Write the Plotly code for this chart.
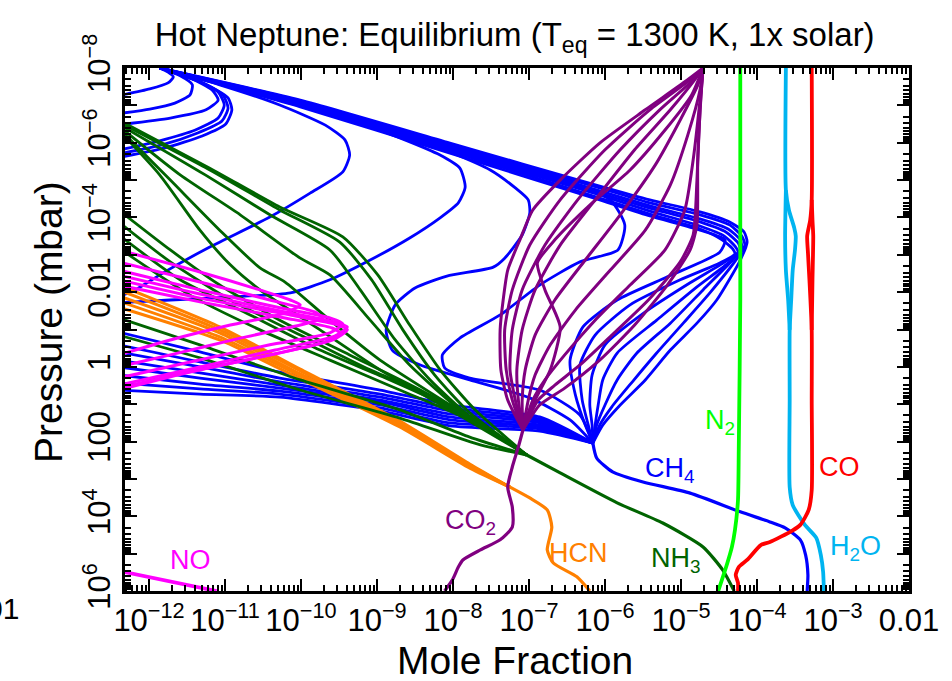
import numpy as np
import plotly.graph_objects as go

# All profile values are stored as log10(mole fraction) (LX) and log10(pressure / mbar) (LP)

# ---------------- CH4 ----------------
CH4_DEEP_LX = [-6.16, -6.11, -5.90, -5.50, -4.88, -4.22, -3.83, -3.63, -3.43, -3.36, -3.33, -3.34]
CH4_DEEP_LP = [2.04, 2.44, 2.81, 3.08, 3.38, 3.88, 4.15, 4.31, 4.63, 5.04, 5.57, 6.00]

CH4_ARC1_LX = [-11.86, -11.75, -11.68, -11.75, -11.99, -12.40]
CH4_ARC1_LP = [-8.0, -7.89, -7.76, -7.60, -7.44, -7.26]
CH4_ARC2_LX = [-11.86, -11.59, -11.43, -11.46, -11.66, -11.99, -12.40]
CH4_ARC2_LP = [-8.0, -7.79, -7.55, -7.28, -7.06, -6.90, -6.78]
CH4_ARC3_LX = [-11.86, -11.46, -11.17, -11.09, -11.25, -11.72, -12.40]
CH4_ARC3_LP = [-8.0, -7.73, -7.41, -7.14, -6.88, -6.66, -6.48]
CH4_ARC4_LX = [-11.86, -11.39, -11.09, -11.01, -11.09, -11.39, -11.86, -12.40]
CH4_ARC4_LP = [-8.0, -7.68, -7.36, -7.01, -6.66, -6.34, -6.05, -5.80]
CH4_ARC5_LX = [-11.86, -11.33, -11.03, -10.96, -11.04, -11.36, -11.83, -12.40]
CH4_ARC5_LP = [-8.0, -7.63, -7.28, -6.93, -6.58, -6.26, -5.94, -5.70]
CH4_ARC6_LX = [-11.86, -11.26, -10.96, -10.91, -10.99, -11.30, -11.79, -12.40]
CH4_ARC6_LP = [-8.0, -7.57, -7.20, -6.88, -6.50, -6.18, -5.86, -5.60]
CH4_BIGC_LX = [-11.86, -11.07, -10.28, -9.68, -9.42, -9.36, -9.45, -9.88, -10.41, -11.20, -11.82, -12.18, -12.40]
CH4_BIGC_LP = [-8.0, -7.55, -7.01, -6.47, -6.07, -5.67, -5.22, -4.65, -4.01, -3.21, -2.51, -2.06, -1.88]
CH4_C465_LX = [-11.86, -10.67, -9.62, -8.70, -8.17, -7.91, -7.84, -7.93, -8.17, -8.57, -9.09, -9.62, -10.14, -10.93, -11.72, -12.40]
CH4_C465_LP = [-8.0, -7.41, -6.82, -6.13, -5.67, -5.32, -4.81, -4.39, -3.99, -3.45, -2.86, -2.33, -1.98, -1.87, -1.79, -1.72]
CH4_C530_LX = [-11.86, -10.01, -8.70, -8.04, -7.51, -7.18, -7.01, -6.99, -7.09, -7.32, -7.47, -8.08, -8.50,
               -8.76, -8.88, -8.80, -8.43, -7.78, -6.99, -6.46, -6.16]
CH4_C530_LP = [-8.0, -7.04, -6.26, -5.75, -5.27, -4.79, -4.47, -4.12, -3.53, -2.91, -2.67, -2.43, -2.11,
               -1.66, -0.99, -0.45, -0.05, 0.35, 0.83, 1.42, 2.04]
CH4_C620_LX = [-11.86, -10.01, -8.04, -6.59, -5.93, -5.74, -5.83, -6.33, -6.86, -7.38, -7.91, -8.14, -8.11,
               -7.78, -6.86, -6.33, -6.16]
CH4_C620_LP = [-8.0, -7.06, -5.89, -5.06, -4.47, -3.80, -3.13, -2.81, -2.19, -1.39, -0.77, -0.32, 0.03,
               0.30, 0.62, 1.29, 2.04]

CH4_BAND_LX = [-12.40, -11.33, -10.28, -8.96, -8.04, -6.86, -6.16]
CH4_BAND1_LP = [-0.93, -0.40, 0.14, 0.62, 1.02, 1.34, 2.04]
CH4_BAND2_LP = [-0.59, -0.13, 0.30, 0.73, 1.10, 1.40, 2.04]
CH4_BAND3_LP = [-0.40, 0.00, 0.40, 0.81, 1.18, 1.45, 2.04]
CH4_BAND4_LP = [-0.18, 0.16, 0.49, 0.89, 1.26, 1.50, 2.04]
CH4_BAND5_LP = [0.00, 0.30, 0.57, 0.94, 1.34, 1.56, 2.04]
CH4_BAND6_LP = [0.22, 0.46, 0.65, 1.02, 1.42, 1.61, 2.04]
CH4_BAND7_LP = [0.43, 0.59, 0.73, 1.10, 1.50, 1.66, 2.04]
CH4_BAND8_LP = [0.62, 0.73, 0.81, 1.18, 1.58, 1.72, 2.04]

CH4_NOSE0_LX = [-11.86, -10.01, -8.04, -6.07, -5.41, -4.75, -4.36, -4.17, -4.13, -4.22, -4.53, -4.79, -5.14, -5.47, -5.80, -6.03, -6.16]
CH4_NOSE0_LP = [-8.0, -7.14, -5.99, -4.84, -4.47, -4.15, -3.88, -3.61, -3.34, -2.86, -1.79, -1.17, -0.45, 0.35, 1.02, 1.56, 2.04]
CH4_NOSE1_LX = [-11.86, -10.01, -8.04, -6.07, -5.41, -4.75, -4.36, -4.20, -4.16, -4.26, -4.62, -4.97, -5.32, -5.64, -5.91, -6.07, -6.16]
CH4_NOSE1_LP = [-8.0, -7.12, -5.94, -4.79, -4.39, -4.07, -3.80, -3.50, -3.26, -2.91, -1.98, -1.17, -0.37, 0.40, 1.07, 1.56, 2.04]
CH4_NOSE2_LX = [-11.86, -10.01, -8.04, -6.07, -5.41, -4.75, -4.38, -4.22, -4.20, -4.32, -4.71, -5.14, -5.58, -5.84, -6.00, -6.11, -6.16]
CH4_NOSE2_LP = [-8.0, -7.09, -5.91, -4.71, -4.31, -3.96, -3.69, -3.40, -3.18, -2.86, -2.06, -1.17, -0.37, 0.35, 1.02, 1.56, 2.04]
CH4_NOSE3_LX = [-11.86, -10.01, -8.04, -6.07, -5.41, -4.75, -4.41, -4.25, -4.22, -4.36, -4.79, -5.32, -5.84, -6.03, -6.09, -6.13, -6.16]
CH4_NOSE3_LP = [-8.0, -7.04, -5.86, -4.65, -4.25, -3.88, -3.61, -3.32, -3.13, -2.81, -2.14, -1.25, -0.37, 0.35, 1.02, 1.56, 2.04]
CH4_NOSE4_LX = [-11.86, -10.01, -8.04, -6.07, -5.41, -4.75, -4.43, -4.29, -4.25, -4.42, -4.88, -5.47, -6.00, -6.17, -6.20, -6.17, -6.16]
CH4_NOSE4_LP = [-8.0, -7.01, -5.81, -4.60, -4.17, -3.77, -3.50, -3.23, -3.07, -2.81, -2.25, -1.47, -0.59, 0.22, 1.02, 1.56, 2.04]
CH4_NOSE5_LX = [-11.86, -10.01, -8.04, -6.07, -5.41, -4.75, -4.46, -4.32, -4.29, -4.49, -5.01, -5.67, -6.13, -6.33, -6.30, -6.22, -6.16]
CH4_NOSE5_LP = [-8.0, -6.98, -5.78, -4.52, -4.09, -3.69, -3.40, -3.16, -3.02, -2.78, -2.33, -1.66, -0.85, -0.05, 0.89, 1.56, 2.04]
CH4_NOSE6_LX = [-11.86, -10.01, -8.04, -6.07, -5.41, -4.75, -4.42, -4.49, -5.18, -5.84, -6.29, -6.46, -6.39, -6.26, -6.16]
CH4_NOSE6_LP = [-8.0, -6.96, -5.72, -4.47, -4.04, -3.66, -3.40, -3.07, -2.41, -1.79, -1.07, -0.18, 0.75, 1.56, 2.04]

# ---------------- NH3 ----------------
NH3_TAIL_LX = [-7.03, -6.59, -5.84, -5.24, -4.71, -4.45, -4.30]
NH3_TAIL_LP = [2.36, 2.84, 3.64, 4.18, 4.82, 5.44, 6.00]
NH3_A1_LX = [-12.40, -11.20, -10.28, -9.45, -8.99, -8.57, -8.17, -7.71, -7.03]
NH3_A1_LP = [-6.61, -5.32, -4.28, -3.48, -2.46, -1.12, 0.08, 1.15, 2.36]
NH3_A2_LX = [-12.40, -11.20, -10.28, -9.49, -9.07, -8.66, -8.24, -7.78, -7.03]
NH3_A2_LP = [-6.55, -5.27, -4.20, -3.34, -2.33, -0.99, 0.22, 1.23, 2.36]
NH3_A3_LX = [-12.40, -11.26, -10.41, -9.62, -9.22, -8.76, -8.30, -7.80, -7.03]
NH3_A3_LP = [-6.50, -5.14, -4.07, -3.13, -2.06, -0.72, 0.35, 1.29, 2.36]
NH3_A4_LX = [-12.40, -11.59, -10.80, -10.01, -9.62, -9.09, -8.57, -7.91, -7.03]
NH3_A4_LP = [-6.45, -5.14, -4.07, -2.91, -2.46, -1.25, -0.05, 1.15, 2.36]
NH3_A5_LX = [-12.40, -11.72, -11.07, -10.54, -10.21, -9.62, -8.96, -8.04, -7.03]
NH3_A5_LP = [-6.39, -5.00, -3.66, -2.65, -2.27, -1.25, -0.18, 1.02, 2.36]
NH3_A6_LX = [-12.40, -11.86, -11.33, -10.93, -10.54, -9.75, -8.96, -8.04, -7.03]
NH3_A6_LP = [-6.34, -5.14, -3.66, -2.73, -2.06, -0.99, 0.08, 1.15, 2.36]
NH3_B1_LX = [-12.40, -11.72, -11.07, -10.28, -9.36, -8.43, -7.64, -7.03]
NH3_B1_LP = [-4.20, -3.13, -2.19, -1.25, -0.32, 0.62, 1.56, 2.36]
NH3_B2_LX = [-12.40, -11.72, -10.93, -10.01, -9.09, -8.17, -7.51, -7.03]
NH3_B2_LP = [-3.88, -2.81, -1.79, -0.85, 0.08, 0.89, 1.69, 2.36]
NH3_B3_LX = [-12.40, -11.59, -10.67, -9.75, -8.83, -7.91, -7.38, -7.03]
NH3_B3_LP = [-3.53, -2.33, -1.39, -0.45, 0.35, 1.21, 1.88, 2.36]
NH3_B4_LX = [-12.40, -11.46, -10.54, -9.62, -8.70, -7.84, -7.32, -7.03]
NH3_B4_LP = [-3.18, -1.92, -0.99, -0.18, 0.62, 1.37, 1.96, 2.36]
NH3_C1_LX = [-12.40, -11.33, -10.01, -8.70, -7.78, -7.03]
NH3_C1_LP = [-1.31, -0.59, 0.35, 1.15, 1.88, 2.36]
NH3_C2_LX = [-12.40, -11.33, -10.01, -8.70, -7.64, -7.03]
NH3_C2_LP = [-0.85, -0.24, 0.62, 1.37, 2.09, 2.36]

# ---------------- NO ----------------
NO_L1_LX = [-12.40, -11.33, -10.54, -10.14, -10.01, -10.21, -10.93, -11.72, -12.40]
NO_L1_LP = [-3.13, -2.54, -2.06, -1.79, -1.66, -1.44, -1.12, -0.72, -0.32]
NO_L2_LX = [-12.40, -11.33, -10.41, -9.82, -9.72, -10.01, -10.80, -11.72, -12.40]
NO_L2_LP = [-2.81, -2.27, -1.79, -1.47, -1.31, -1.12, -0.77, -0.32, 0.00]
NO_L3_LX = [-12.40, -11.33, -10.28, -9.62, -9.45, -9.62, -10.41, -11.46, -12.40]
NO_L3_LP = [-2.59, -2.06, -1.58, -1.31, -1.15, -0.91, -0.59, -0.13, 0.30]
NO_L4_LX = [-12.40, -11.33, -10.21, -9.55, -9.39, -9.55, -10.34, -11.39, -12.40]
NO_L4_LP = [-2.46, -1.95, -1.47, -1.20, -1.07, -0.83, -0.45, 0.03, 0.49]
NO_L5_LX = [-12.40, -11.33, -10.14, -9.51, -9.39, -9.58, -10.41, -11.46, -12.40]
NO_L5_LP = [-2.33, -1.84, -1.39, -1.12, -0.99, -0.72, -0.32, 0.14, 0.62]
NO_L6_LX = [-12.40, -11.33, -10.21, -9.59, -9.49, -9.68, -10.54, -11.53, -12.40]
NO_L6_LP = [-2.19, -1.74, -1.31, -1.04, -0.91, -0.67, -0.26, 0.16, 0.57]
NO_DEEP_LX = [-12.40, -11.11]
NO_DEEP_LP = [5.46, 6.00]

# ---------------- HCN ----------------
HCN_HEAD_LX = [-12.40, -11.07, -10.01, -8.70, -7.78, -7.25]
HCN_H1_LP = [-2.19, -1.07, 0.06, 1.45, 2.60, 3.22]
HCN_H2_LP = [-2.06, -0.99, 0.11, 1.48, 2.63, 3.22]
HCN_H3_LP = [-1.90, -0.91, 0.19, 1.53, 2.65, 3.22]
HCN_H4_LP = [-1.76, -0.80, 0.24, 1.56, 2.68, 3.22]
HCN_H5_LP = [-1.60, -0.72, 0.32, 1.61, 2.71, 3.22]
HCN_TAIL_LX = [-7.25, -6.99, -6.76, -6.70, -6.76, -6.68, -6.37, -6.20]
HCN_TAIL_LP = [3.22, 3.51, 3.83, 4.29, 4.90, 5.25, 5.62, 6.00]

# ---------------- CO2 ----------------
CO2_DEEP_LX = [-7.08, -7.14, -7.22, -7.28, -7.22, -7.22, -7.38, -7.64, -7.87, -7.93, -8.01, -8.11]
CO2_DEEP_LP = [1.69, 2.14, 2.68, 3.22, 3.75, 4.29, 4.63, 4.90, 5.17, 5.36, 5.71, 6.00]
CO2_F1_LX = [-7.08, -7.28, -7.37, -7.38, -7.34, -7.28, -7.12, -6.95, -6.59, -6.07, -5.47, -4.95, -4.71]
CO2_F1_LP = [1.69, 0.89, 0.08, -0.99, -1.79, -2.59, -3.40, -4.20, -5.00, -5.99, -6.88, -7.63, -8.0]
CO2_F2_LX = [-7.08, -7.22, -7.30, -7.32, -7.22, -6.99, -6.59, -6.00, -5.41, -4.88, -4.71]
CO2_F2_LP = [1.69, 0.89, 0.08, -0.99, -2.06, -3.26, -4.47, -5.81, -6.88, -7.68, -8.0]
CO2_F3_LX = [-7.08, -7.18, -7.25, -7.22, -7.09, -6.79, -6.36, -5.80, -5.28, -4.84, -4.71]
CO2_F3_LP = [1.69, 0.89, 0.08, -0.99, -2.06, -3.26, -4.47, -5.81, -6.88, -7.68, -8.0]
CO2_F4_LX = [-7.08, -7.14, -7.16, -7.09, -6.92, -6.59, -6.13, -5.61, -5.14, -4.82, -4.71]
CO2_F4_LP = [1.69, 0.89, 0.08, -0.99, -2.06, -3.26, -4.47, -5.81, -6.88, -7.68, -8.0]
CO2_F5_LX = [-7.08, -7.09, -7.05, -6.92, -6.66, -6.26, -5.80, -5.34, -5.01, -4.78, -4.71]
CO2_F5_LP = [1.69, 0.89, 0.08, -0.85, -1.79, -2.86, -4.07, -5.40, -6.61, -7.54, -8.0]
CO2_F6_LX = [-7.08, -7.01, -6.92, -6.72, -6.39, -5.93, -5.47, -5.14, -4.91, -4.75, -4.71]
CO2_F6_LP = [1.69, 0.89, 0.22, -0.59, -1.52, -2.59, -3.66, -4.87, -6.21, -7.41, -8.0]
CO2_F7_LX = [-7.08, -6.95, -6.79, -6.53, -6.13, -5.67, -5.21, -4.95, -4.84, -4.75, -4.71]
CO2_F7_LP = [1.69, 0.89, 0.35, -0.32, -1.25, -2.19, -3.13, -4.20, -5.54, -7.14, -8.0]
CO2_F8_LX = [-7.08, -6.88, -6.66, -6.33, -5.91, -5.43, -5.01, -4.84, -4.79, -4.75, -4.71]
CO2_F8_LP = [1.69, 0.89, 0.49, -0.05, -0.85, -1.79, -2.81, -3.53, -5.00, -6.88, -8.0]
CO2_F9_LX = [-7.08, -6.86, -6.53, -6.07, -5.61, -5.18, -4.88, -4.79, -4.78, -4.74, -4.71]
CO2_F9_LP = [1.69, 1.02, 0.57, -0.18, -1.12, -2.19, -3.13, -3.80, -5.54, -7.14, -8.0]
CO2_F10_LX = [-7.08, -6.92, -6.72, -6.59, -6.79, -6.89, -6.66, -6.20, -5.67, -5.21, -4.86, -4.71]
CO2_F10_LP = [1.69, 0.89, 0.08, -1.07, -2.06, -2.78, -3.40, -4.33, -5.27, -6.34, -7.28, -8.0]

# ---------------- N2, H2O, CO ----------------
N2_LX = [-4.22, -4.22, -4.24, -4.25, -4.29, -4.33, -4.39, -4.51]
N2_LP = [-8.0, -1.79, 2.22, 3.56, 4.37, 4.82, 5.25, 6.00]
H2O_LX = [-3.62, -3.62, -3.58, -3.51, -3.49, -3.50, -3.53, -3.55, -3.57, -3.57, -3.57, -3.53, -3.37,
          -3.22, -3.16, -3.13, -3.12]
H2O_LP = [-8.0, -4.73, -4.20, -3.72, -3.50, -3.13, -2.59, -1.79, -0.99, 0.89, 3.22, 3.70, 4.23,
          4.58, 5.04, 5.49, 6.00]
H2O_B_LX = [-3.62, -3.63, -3.62, -3.59, -3.57]
H2O_B_LP = [-4.73, -3.50, -2.59, -1.79, -0.99]
CO_LX = [-3.28, -3.28, -3.30, -3.34, -3.33, -3.31, -3.28, -3.28, -3.28, -3.32, -3.43, -3.54, -3.83, -3.95,
         -4.13, -4.24, -4.28, -4.25, -4.25]
CO_LP = [-8.0, -4.47, -3.93, -3.50, -3.07, -2.33, -0.99, 0.89, 3.30, 3.83, 4.23, 4.39, 4.69, 4.77,
         5.17, 5.36, 5.57, 5.78, 6.00]
CO_B_LX = [-3.28, -3.27, -3.26, -3.27, -3.28]
CO_B_LP = [-4.47, -3.93, -3.50, -2.33, -0.99]

X_TICK_EXP = list(range(-12, -1))
X_TICK_TEXT = ["10<sup>−12</sup>", "10<sup>−11</sup>", "10<sup>−10</sup>", "10<sup>−9</sup>", "10<sup>−8</sup>",
               "10<sup>−7</sup>", "10<sup>−6</sup>", "10<sup>−5</sup>", "10<sup>−4</sup>", "10<sup>−3</sup>", "0.01"]
Y_TICK_EXP = list(range(-8, 7))
Y_TICK_TEXT = ["10<sup>−8</sup>", "", "10<sup>−6</sup>", "", "10<sup>−4</sup>", "", "0.01", "", "1", "",
               "100", "", "10<sup>4</sup>", "", "10<sup>6</sup>"]

BLUE = "#0000FF"
DKGREEN = "#006400"
MAGENTA = "#FF00FF"
ORANGE = "#FF8000"
PURPLE = "#800080"
LIME = "#00FF00"
SKY = "#00B4F0"
RED = "#FF0000"
FONT = "Liberation Sans, Arial, Helvetica, sans-serif"

fig = go.Figure()


def add(lx, lp, color, width=2.8, spline=True):
    fig.add_trace(go.Scatter(
        x=10 ** np.asarray(lx, dtype=float), y=10 ** np.asarray(lp, dtype=float),
        mode="lines", line=dict(color=color, width=width,
                                shape="spline" if spline else "linear", smoothing=0.6),
        hoverinfo="skip", showlegend=False))


# CH4
add(CH4_DEEP_LX, CH4_DEEP_LP, BLUE, 3.2)
for lx, lp in [(CH4_ARC1_LX, CH4_ARC1_LP), (CH4_ARC2_LX, CH4_ARC2_LP), (CH4_ARC3_LX, CH4_ARC3_LP),
               (CH4_ARC4_LX, CH4_ARC4_LP), (CH4_ARC5_LX, CH4_ARC5_LP), (CH4_ARC6_LX, CH4_ARC6_LP),
               (CH4_BIGC_LX, CH4_BIGC_LP), (CH4_C465_LX, CH4_C465_LP), (CH4_C530_LX, CH4_C530_LP),
               (CH4_C620_LX, CH4_C620_LP),
               (CH4_NOSE0_LX, CH4_NOSE0_LP), (CH4_NOSE1_LX, CH4_NOSE1_LP), (CH4_NOSE2_LX, CH4_NOSE2_LP),
               (CH4_NOSE3_LX, CH4_NOSE3_LP), (CH4_NOSE4_LX, CH4_NOSE4_LP), (CH4_NOSE5_LX, CH4_NOSE5_LP),
               (CH4_NOSE6_LX, CH4_NOSE6_LP)]:
    add(lx, lp, BLUE)
for lp in [CH4_BAND1_LP, CH4_BAND2_LP, CH4_BAND3_LP, CH4_BAND4_LP,
           CH4_BAND5_LP, CH4_BAND6_LP, CH4_BAND7_LP, CH4_BAND8_LP]:
    add(CH4_BAND_LX, lp, BLUE)

# HCN
for lp in [HCN_H1_LP, HCN_H2_LP, HCN_H3_LP, HCN_H4_LP, HCN_H5_LP]:
    add(HCN_HEAD_LX, lp, ORANGE, 3.0)
add(HCN_TAIL_LX, HCN_TAIL_LP, ORANGE, 3.2)

# NH3
add(NH3_TAIL_LX, NH3_TAIL_LP, DKGREEN, 3.2)
for lx, lp in [(NH3_A1_LX, NH3_A1_LP), (NH3_A2_LX, NH3_A2_LP), (NH3_A3_LX, NH3_A3_LP),
               (NH3_A4_LX, NH3_A4_LP), (NH3_A5_LX, NH3_A5_LP), (NH3_A6_LX, NH3_A6_LP),
               (NH3_B1_LX, NH3_B1_LP), (NH3_B2_LX, NH3_B2_LP), (NH3_B3_LX, NH3_B3_LP),
               (NH3_B4_LX, NH3_B4_LP), (NH3_C1_LX, NH3_C1_LP), (NH3_C2_LX, NH3_C2_LP)]:
    add(lx, lp, DKGREEN)

# NO
for lx, lp in [(NO_L1_LX, NO_L1_LP), (NO_L2_LX, NO_L2_LP), (NO_L3_LX, NO_L3_LP),
               (NO_L4_LX, NO_L4_LP), (NO_L5_LX, NO_L5_LP), (NO_L6_LX, NO_L6_LP)]:
    add(lx, lp, MAGENTA, 3.0)
add(NO_DEEP_LX, NO_DEEP_LP, MAGENTA, 3.8, spline=False)

# CO2
add(CO2_DEEP_LX, CO2_DEEP_LP, PURPLE, 3.2)
for lx, lp in [(CO2_F1_LX, CO2_F1_LP), (CO2_F2_LX, CO2_F2_LP), (CO2_F3_LX, CO2_F3_LP),
               (CO2_F4_LX, CO2_F4_LP), (CO2_F5_LX, CO2_F5_LP), (CO2_F6_LX, CO2_F6_LP),
               (CO2_F7_LX, CO2_F7_LP), (CO2_F8_LX, CO2_F8_LP), (CO2_F9_LX, CO2_F9_LP),
               (CO2_F10_LX, CO2_F10_LP)]:
    add(lx, lp, PURPLE, 3.0)

# N2, H2O, CO
add(N2_LX, N2_LP, LIME, 3.8)
add(H2O_LX, H2O_LP, SKY, 3.8)
add(H2O_B_LX, H2O_B_LP, SKY, 3.8)
add(CO_LX, CO_LP, RED, 3.8)
add(CO_B_LX, CO_B_LP, RED, 3.8)

# minor tick positions (2..9 x 10^n)
minor_x = [k * 10.0 ** n for n in range(-13, -2) for k in range(2, 10)]
minor_y = [k * 10.0 ** n for n in range(-8, 6) for k in range(2, 10)]

axis_common = dict(
    type="log", showgrid=False, zeroline=False, showline=True, linewidth=3, linecolor="black",
    mirror="allticks", ticks="inside", ticklen=12, tickwidth=2, tickcolor="black",
    tickfont=dict(family=FONT, size=31, color="black"),
)

fig.update_layout(
    width=952, height=681,
    margin=dict(l=125, r=43, t=68, b=90),
    paper_bgcolor="white", plot_bgcolor="white",
    xaxis=dict(range=[-12.316, -2], tickmode="array",
               tickvals=[10.0 ** e for e in X_TICK_EXP], ticktext=X_TICK_TEXT,
               minor=dict(tickmode="array", tickvals=minor_x, ticks="inside", ticklen=6,
                          tickwidth=1.5, tickcolor="black", showgrid=False),
               **axis_common),
    yaxis=dict(range=[6, -8], tickmode="array", tickangle=-90,
               tickvals=[10.0 ** e for e in Y_TICK_EXP], ticktext=Y_TICK_TEXT,
               minor=dict(tickmode="array", tickvals=minor_y, ticks="inside", ticklen=6,
                          tickwidth=1.5, tickcolor="black", showgrid=False),
               **axis_common),
    title=dict(text="Hot Neptune: Equilibrium (T<sub>eq</sub> = 1300 K, 1x solar)",
               font=dict(family=FONT, size=33, color="black"),
               x=0.497, xref="paper", xanchor="center", y=0.949, yanchor="middle"),
)


def px_x(p):
    return (p - 125) / 784.0


def px_y(p):
    return (591 - p) / 523.0


labels = [
    ("CH<sub>4</sub>", 670, 470, BLUE),
    ("N<sub>2</sub>", 720, 422, LIME),
    ("CO", 839, 467, RED),
    ("H<sub>2</sub>O", 855, 548, SKY),
    ("NH<sub>3</sub>", 676, 560, DKGREEN),
    ("HCN", 578, 553, ORANGE),
    ("CO<sub>2</sub>", 470, 522, PURPLE),
    ("NO", 190, 560, MAGENTA),
]
for text, xp, yp, col in labels:
    fig.add_annotation(text=text, x=px_x(xp), y=px_y(yp), xref="paper", yref="paper",
                       showarrow=False, font=dict(family=FONT, size=27, color=col),
                       xanchor="center", yanchor="middle")

fig.add_annotation(text="Mole Fraction", x=px_x(515), y=px_y(660), xref="paper", yref="paper",
                   showarrow=False, font=dict(family=FONT, size=39, color="black"),
                   xanchor="center", yanchor="middle")
fig.add_annotation(text="Pressure (mbar)", x=px_x(48), y=px_y(322), xref="paper", yref="paper",
                   showarrow=False, textangle=-90, font=dict(family=FONT, size=39, color="black"),
                   xanchor="center", yanchor="middle")
fig.add_annotation(text="0.01", x=px_x(21), y=px_y(608), xref="paper", yref="paper",
                   showarrow=False, font=dict(family=FONT, size=30, color="black"),
                   xanchor="right", yanchor="middle")

fig.write_html("out.html")
